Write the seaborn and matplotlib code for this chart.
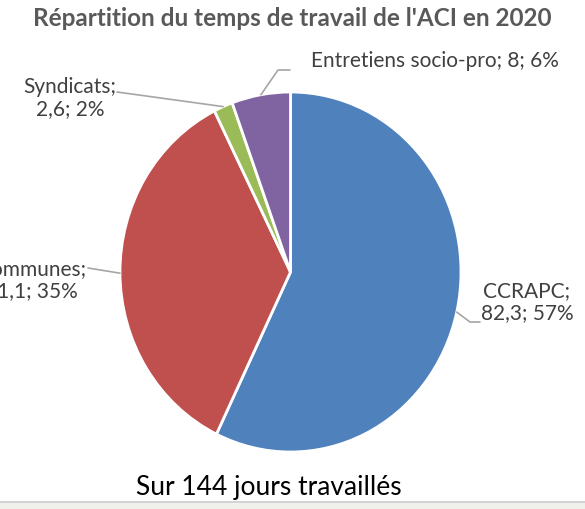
import numpy as np
import matplotlib
matplotlib.use("Agg")
import matplotlib.pyplot as plt
from matplotlib.patches import Rectangle
import seaborn as sns

# data
categories = ["CCRAPC", "Communes", "Syndicats", "Entretiens socio-pro"]
days = [82.3, 51.1, 2.6, 8]
day_labels = ["82,3", "51,1", "2,6", "8"]
colors = ["#4F81BD", "#C0504D", "#9BBB59", "#8064A2"]
total_days = 144

sns.set_theme(style="white")
plt.rcParams['font.family'] = ['Lato', 'DejaVu Sans']

W, H = 585, 509
fig = plt.figure(figsize=(W / 100, H / 100), dpi=100)
ax = fig.add_axes([0, 0, 1, 1])

# pie is a little taller than wide in the reference
cx_px, cy_px = 290.5, 272
rx, ry = 170.5, 180

def to_data(x, y):
    # pixel (from top-left) -> data coords of the unit pie
    return (x - cx_px) / rx, (cy_px - y) / ry

wedges, _ = ax.pie(days, colors=colors, startangle=90, counterclock=False,
                   center=(0, 0), radius=1,
                   wedgeprops=dict(edgecolor="white", linewidth=2))
ax.set_xlim(-cx_px / rx, (W - cx_px) / rx)
ax.set_ylim(-(H - cy_px) / ry, cy_px / ry)
ax.set_aspect("auto")
ax.axis("off")

pct = [round(v / sum(days) * 100) for v in days]

# label layout: text centre, leader path (after the anchor on the wedge)
layout = {
    "CCRAPC": dict(xy=(527, 302), path=[(470, 322), (480, 322)], nl=True),
    "Communes": dict(xy=(31, 280), path=[(88, 268)], nl=True),
    "Syndicats": dict(xy=(70, 98), path=[(117, 92)], nl=True),
    "Entretiens socio-pro": dict(xy=(435, 61), path=[(278, 70), (290, 70)], nl=False),
}

for w, cat, lab, p in zip(wedges, categories, day_labels, pct):
    lo = layout[cat]
    sep = "\n" if lo["nl"] else " "
    txt = f"{cat};{sep}{lab}; {p}%"
    fig.text(lo["xy"][0] / W, 1 - lo["xy"][1] / H, txt, ha="center", va="center",
             fontsize=15, color="#404040", linespacing=1.15)
    mid = np.deg2rad((w.theta1 + w.theta2) / 2)
    pts = [(np.cos(mid), np.sin(mid))] + [to_data(*q) for q in lo["path"]]
    ax.plot([q[0] for q in pts], [q[1] for q in pts], color="#A6A6A6", lw=1.2)

fig.text(292 / W, 1 - 19 / H, "Répartition du temps de travail de l'ACI en 2020",
         ha="center", va="center", fontsize=17.5, fontweight="bold", color="#595959")
fig.text(269 / W, 1 - 487 / H, f"Sur {total_days} jours travaillés",
         ha="center", va="center", fontsize=19, color="black")

# bottom strip
fig.add_artist(Rectangle((0, 0), 1, 6 / H, transform=fig.transFigure,
                         facecolor="#F1F1EC", edgecolor="none"))
fig.add_artist(Rectangle((0, 6 / H), 1, 2 / H, transform=fig.transFigure,
                         facecolor="#D4D4D4", edgecolor="none"))

fig.savefig("out.png", dpi=100)
